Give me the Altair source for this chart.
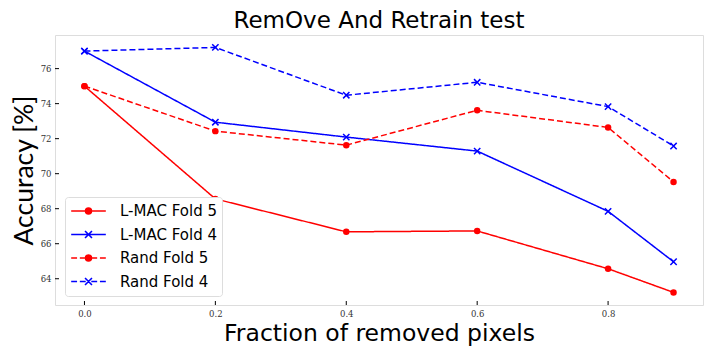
import altair as alt
import pandas as pd

# ---- data ----
fractions = [0.0, 0.2, 0.4, 0.6, 0.8, 0.9]
series_names = ["L-MAC Fold 5", "L-MAC Fold 4", "Rand Fold 5", "Rand Fold 4"]
lmac_fold5 = [75.0, 68.56, 66.68, 66.73, 64.57, 63.22]
lmac_fold4 = [77.0, 72.94, 72.09, 71.29, 67.85, 64.97]
rand_fold5 = [75.0, 72.43, 71.63, 73.62, 72.64, 69.53]
rand_fold4 = [77.0, 77.21, 74.48, 75.22, 73.83, 71.58]
series_markers = ["o", "x", "o", "x"]
x_ticks = [0.0, 0.2, 0.4, 0.6, 0.8]
y_ticks = [64, 66, 68, 70, 72, 74, 76]

colors = ["#ff0000", "#0000ff", "#ff0000", "#0000ff"]
dashes = [[1, 0], [1, 0], [6, 3], [6, 3]]

rows = []
for name, vals, mk in zip(series_names, [lmac_fold5, lmac_fold4, rand_fold5, rand_fold4], series_markers):
    for f, v in zip(fractions, vals):
        rows.append({"fraction": f, "accuracy": v, "series": name, "marker": mk})
df = pd.DataFrame(rows)

W, H = 648, 270
xscale = alt.Scale(domain=[-0.045, 0.945], nice=False, zero=False)
yscale = alt.Scale(domain=[62.5, 77.92], nice=False, zero=False)
cscale = alt.Scale(domain=series_names, range=colors)

xaxis = alt.Axis(values=x_ticks, format=".1f", ticks=False, domain=False, grid=False,
                 labelFont="DejaVu Serif", labelFontSize=8.5, labelColor="#333", labelPadding=4,
                 title="Fraction of removed pixels", titleFont="DejaVu Sans", titleFontSize=23.5,
                 titleFontWeight="normal", titleColor="black", titlePadding=4)
yaxis = alt.Axis(values=y_ticks, format="d", ticks=False, domain=False, grid=False,
                 labelFont="DejaVu Serif", labelFontSize=8.5, labelColor="#333", labelPadding=4,
                 title="Accuracy [%]", titleFont="Lato", titleFontSize=26.5,
                 titleFontWeight="normal", titleColor="black", titlePadding=2)

base = alt.Chart(df)

lines = base.mark_line(strokeWidth=1.5).encode(
    x=alt.X("fraction:Q", scale=xscale, axis=xaxis),
    y=alt.Y("accuracy:Q", scale=yscale, axis=yaxis),
    color=alt.Color("series:N", scale=cscale, legend=None),
    strokeDash=alt.StrokeDash("series:N", scale=alt.Scale(domain=series_names, range=dashes), legend=None),
    detail="series:N",
)

circles = base.transform_filter(alt.datum.marker == "o").mark_circle(size=42, opacity=1).encode(
    x=alt.X("fraction:Q", scale=xscale),
    y=alt.Y("accuracy:Q", scale=yscale),
    color=alt.Color("series:N", scale=cscale, legend=None),
)

cross_path = "M-1,-1L1,1M-1,1L1,-1"
crosses = base.transform_filter(alt.datum.marker == "x").mark_point(
    shape=cross_path, size=40, strokeWidth=1.5, filled=False, opacity=1).encode(
    x=alt.X("fraction:Q", scale=xscale),
    y=alt.Y("accuracy:Q", scale=yscale),
    color=alt.Color("series:N", scale=cscale, legend=None),
)

# legend symbols: line + marker drawn as paths
def ring(r):
    return f"M{r},0A{r},{r},0,1,1,-{r},0A{r},{r},0,1,1,{r},0"

circ = ring(0.17) + ring(0.1) + ring(0.04)
xmark = "M-0.2,-0.2L0.2,0.2M-0.2,0.2L0.2,-0.2"
solid = "M-1,0H1"
dashed = "M-1,0H-0.66M-0.5,0H-0.16M0.16,0H0.5M0.66,0H1"
legend_paths = [solid + circ, solid + xmark, dashed + circ, dashed + xmark]

legend_props = dict(
    title=None, orient="none", legendX=10, legendY=162,
    symbolSize=1200, symbolStrokeWidth=1.6, clipHeight=18, rowPadding=5.5,
    labelFont="DejaVu Sans", labelFontSize=15, labelColor="black", labelOffset=13,
    padding=5, strokeColor="#dddddd", fillColor="white", cornerRadius=3,
    labelLimit=300)

legend_layer = base.transform_filter("false").mark_point(filled=False, strokeWidth=1.5, opacity=1).encode(
    x=alt.X("fraction:Q", scale=xscale),
    y=alt.Y("accuracy:Q", scale=yscale),
    color=alt.Color("series:N", scale=cscale, legend=alt.Legend(**legend_props)),
    shape=alt.Shape("series:N", scale=alt.Scale(domain=series_names, range=legend_paths),
                    legend=alt.Legend(**legend_props)),
)

xt = pd.DataFrame({"t": x_ticks})
yt = pd.DataFrame({"t": y_ticks})
xtick_layer = alt.Chart(xt).mark_rule(color="black", strokeWidth=1).encode(
    x=alt.X("t:Q", scale=xscale), y=alt.value(H), y2=alt.value(H - 4))
ytick_layer = alt.Chart(yt).mark_rule(color="black", strokeWidth=1).encode(
    y=alt.Y("t:Q", scale=yscale), x=alt.value(0), x2=alt.value(4))

chart = alt.layer(lines, circles, crosses, legend_layer, xtick_layer, ytick_layer).resolve_legend(
    color="independent", shape="independent", strokeDash="independent"
).properties(
    width=W, height=H,
    title=alt.TitleParams("RemOve And Retrain test", font="DejaVu Sans", fontSize=23,
                          fontWeight="normal", color="black", anchor="middle", offset=2),
    autosize=alt.AutoSizeParams(type="none"),
    padding={"left": 47, "top": 27, "right": 3, "bottom": 44},
).configure_view(stroke="#333333", strokeWidth=1.2).configure(background="white")

chart.save("out.html", embed_options={"renderer": "svg", "actions": False})
